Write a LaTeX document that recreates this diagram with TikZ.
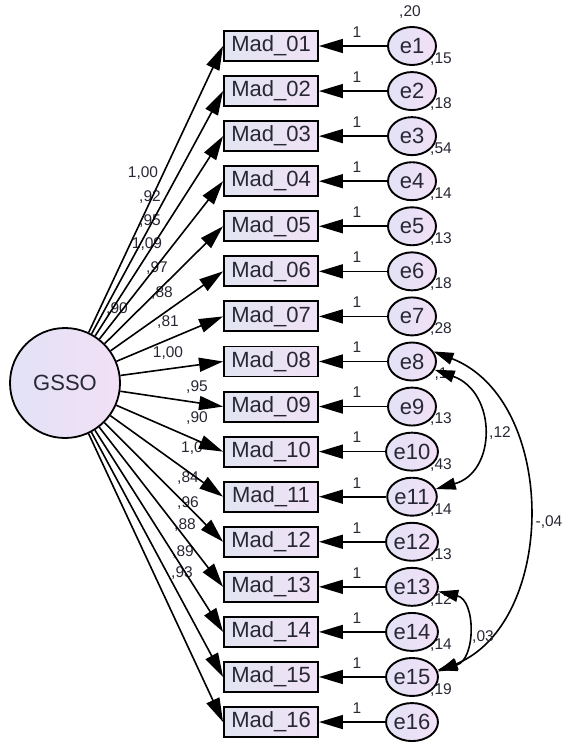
\documentclass[tikz,border=0pt]{standalone}
\usepackage{fontspec}
\setmainfont{Liberation Sans}
\usetikzlibrary{arrows.meta,shapes.geometric}
\definecolor{boxL}{RGB}{226,228,242}
\definecolor{boxR}{RGB}{240,226,246}
\definecolor{elL}{RGB}{226,226,246}
\definecolor{elR}{RGB}{242,224,246}
\definecolor{txt}{RGB}{40,40,52}
\begin{document}
\begin{tikzpicture}[x=1pt,y=-1pt,
  obs/.style={draw, line width=1.9pt, minimum width=94pt, minimum height=30pt, inner sep=0pt,
    left color=boxL, right color=boxR, text=txt, font=\fontsize{22}{22}\selectfont},
  err/.style={ellipse, draw, line width=1.9pt, minimum width=48pt, minimum height=38pt, inner sep=0pt,
    left color=elL, right color=elR, text=txt, font=\fontsize{22}{22}\selectfont},
  lat/.style={circle, draw, line width=1.8pt, minimum size=110pt, inner sep=0pt,
    left color=elL, right color=elR, text=txt, font=\fontsize{22}{22}\selectfont},
  arr/.style={line width=1.6pt, -{Triangle[length=24pt,width=14pt]}},
  cov/.style={line width=1.6pt, {Triangle[length=20pt,width=12pt]}-{Triangle[length=20pt,width=12pt]}},
  lab/.style={font=\fontsize{15.5}{15.5}\selectfont, text=txt, inner sep=0pt}]
\useasboundingbox (0,0) rectangle (563,749);
% loading labels
\node[lab] at (143,173) {1,00};
\node[lab] at (150,197) {,92};
\node[lab] at (150,221) {,95};
\node[lab] at (147,244) {1,09};
\node[lab] at (157,268) {,97};
\node[lab] at (162,293) {,88};
\node[lab] at (168,322) {,81};
\node[lab] at (117,309) {,90};
\node[lab] at (168,353) {1,00};
\node[lab] at (197,387) {,95};
\node[lab] at (197,418) {,90};
\node[lab] at (192,448) {1,0};
\node[lab] at (188,478) {,84};
\node[lab] at (188,503) {,96};
\node[lab] at (185,525) {,88};
\node[lab] at (183,552) {,89};
\node[lab] at (182,573) {,93};
% error variance labels
\node[lab] at (410,12) {,20};
\foreach \k/\v in {1/{,15},2/{,18},3/{,54},4/{,14},5/{,13},6/{,18},7/{,28},8/{,1},9/{,13},10/{,43},11/{,14},12/{,13},13/{,12},14/{,14},15/{,19}}{
  \pgfmathsetmacro\yy{46+45.07*(\k-1)+13}
  \node[lab] at (441,\yy) {\v};
}
\node[lat] (g) at (65,383) {GSSO};
\foreach \i/\n in {1/01,2/02,3/03,4/04,5/05,6/06,7/07,8/08,9/09,10/10,11/11,12/12,13/13,14/14,15/15,16/16}{
  \pgfmathsetmacro\yy{46+45.07*(\i-1)}
  \node[obs] (m\i) at (271,\yy) {Mad\_\n};
  \node[err] (e\i) at (412,\yy) {e\i};
  \draw[arr] (e\i) -- (m\i);
  \node[lab] at (357,\yy-14) {1};
  \draw[arr] (g) -- (m\i.west);
}
% covariances
\draw[cov] (e8.-20) .. controls (497,392) and (497,472) .. (e11.18);
\draw[cov] (e8.25) .. controls (558,400) and (558,622) .. (e15.12);
\draw[cov] (e13.-10) .. controls (476,600) and (476,660) .. (e15.15);
\node[lab] at (500,433) {,12};
\node[lab] at (549,522) {-,04};
\node[lab] at (483,637) {,03};
\end{tikzpicture}
\end{document}
